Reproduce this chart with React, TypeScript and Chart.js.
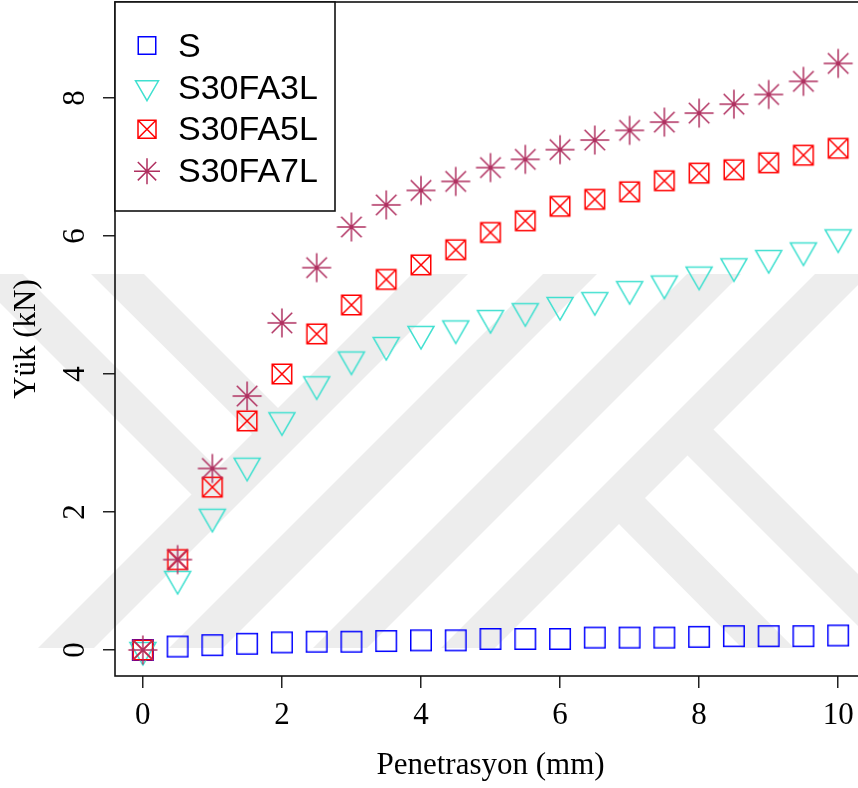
import { useEffect, useRef } from "react";
import { Chart, registerables } from "chart.js";

Chart.register(...registerables);

// ---------------- data ----------------
const PENETRATION = [0, 0.5, 1, 1.5, 2, 2.5, 3, 3.5, 4, 4.5, 5, 5.5, 6, 6.5, 7, 7.5, 8, 8.5, 9, 9.5, 10];
const LOAD_S = [0, 0.05, 0.07, 0.09, 0.11, 0.12, 0.12, 0.13, 0.14, 0.14, 0.16, 0.16, 0.16, 0.18, 0.18, 0.18, 0.19, 0.2, 0.2, 0.2, 0.21];
const LOAD_S30FA3L = [0, 1.03, 1.93, 2.67, 3.33, 3.85, 4.21, 4.42, 4.58, 4.66, 4.81, 4.91, 5.0, 5.07, 5.23, 5.31, 5.44, 5.56, 5.68, 5.79, 5.98];
const LOAD_S30FA5L = [0, 1.31, 2.36, 3.32, 4.0, 4.58, 5.0, 5.37, 5.58, 5.8, 6.05, 6.22, 6.43, 6.53, 6.64, 6.8, 6.91, 6.96, 7.06, 7.17, 7.27];
const LOAD_S30FA7L = [0, 1.31, 2.63, 3.68, 4.74, 5.54, 6.13, 6.45, 6.66, 6.79, 6.99, 7.11, 7.25, 7.39, 7.53, 7.65, 7.78, 7.91, 8.05, 8.24, 8.5];

const SERIES_NAMES = ["S", "S30FA3L", "S30FA5L", "S30FA7L"];
const SERIES_VALUES = [LOAD_S, LOAD_S30FA3L, LOAD_S30FA5L, LOAD_S30FA7L];
const SERIES_COLORS = ["#0000FF", "#40E0D0", "#FF0000", "#B03060"];
const SERIES_MARKERS = ["square", "triangleDown", "crossSquare", "asterisk"] as const;

const X_TICKS = [0, 2, 4, 6, 8, 10];
const Y_TICKS = [0, 2, 4, 6, 8];
const X_TITLE = "Penetrasyon (mm)";
const Y_TITLE = "Yük (kN)";

// ---------------- styling ----------------
const SERIF = '"Liberation Serif", "Times New Roman", serif';
const SANS = '"Liberation Sans", Arial, sans-serif';
const DATA_MARKER_SIZE = { square: 20.5, triangleDown: 26, crossSquare: 19.5, asterisk: 29 };
const LEGEND_MARKER_SIZE = { square: 17.5, triangleDown: 23, crossSquare: 18, asterisk: 26 };
const WATERMARK_COLOR = "#ededed";
const WATERMARK_CLIP = [274, 648];
const WATERMARK_BANDS = [
  [[38, 648], [94, 648], [469, 273], [413, 273]],
  [[169, 648], [223, 648], [598, 273], [544, 273]],
  [[313, 648], [367, 648], [742, 273], [688, 273]],
  [[441, 648], [495, 648], [870, 273], [816, 273]],
  [[-30, 273], [22, 273], [218, 469], [192, 495]],
  [[90, 273], [143, 273], [280, 410], [254, 436]],
  [[711, 427], [685, 453], [879, 647], [931, 647]],
  [[642.5, 495.5], [616.5, 521.5], [742, 648], [794, 648]],
];

type Kind = (typeof SERIES_MARKERS)[number];

function drawMarker(ctx: CanvasRenderingContext2D, kind: Kind, cx: number, cy: number, size: number, color: string, lw: number) {
  ctx.save();
  ctx.strokeStyle = color;
  ctx.lineWidth = lw;
  ctx.beginPath();
  const h = size / 2;
  if (kind === "square" || kind === "crossSquare") {
    ctx.rect(cx - h, cy - h, size, size);
    if (kind === "crossSquare") {
      ctx.moveTo(cx - h, cy - h);
      ctx.lineTo(cx + h, cy + h);
      ctx.moveTo(cx + h, cy - h);
      ctx.lineTo(cx - h, cy + h);
    }
  } else if (kind === "triangleDown") {
    const r = size / Math.sqrt(3);
    ctx.moveTo(cx, cy + r);
    ctx.lineTo(cx + h, cy - r / 2);
    ctx.lineTo(cx - h, cy - r / 2);
    ctx.closePath();
  } else {
    for (let k = 0; k < 4; k++) {
      const a = (k * Math.PI) / 4;
      ctx.moveTo(cx + Math.cos(a) * h, cy + Math.sin(a) * h);
      ctx.lineTo(cx - Math.cos(a) * h, cy - Math.sin(a) * h);
    }
  }
  ctx.stroke();
  ctx.restore();
}

function makeMarkerImage(kind: Kind, size: number, color: string) {
  const dim = 42;
  const c = document.createElement("canvas");
  c.width = dim;
  c.height = dim;
  const ctx = c.getContext("2d")!;
  drawMarker(ctx, kind, dim / 2, dim / 2, size, color, 1.5);
  return c;
}

export default function App() {
  const ref = useRef<HTMLCanvasElement>(null);

  useEffect(() => {
    document.body.style.margin = "0";
    const canvas = ref.current!;

    const backgroundPlugin = {
      id: "bgWatermark",
      beforeDraw(chart: any) {
        const ctx = chart.ctx as CanvasRenderingContext2D;
        ctx.save();
        ctx.fillStyle = "#fff";
        ctx.fillRect(0, 0, chart.width, chart.height);
        ctx.beginPath();
        ctx.rect(0, WATERMARK_CLIP[0], chart.width, WATERMARK_CLIP[1] - WATERMARK_CLIP[0]);
        ctx.clip();
        ctx.fillStyle = WATERMARK_COLOR;
        for (const poly of WATERMARK_BANDS) {
          ctx.beginPath();
          poly.forEach(([px, py], i) => (i === 0 ? ctx.moveTo(px, py) : ctx.lineTo(px, py)));
          ctx.closePath();
          ctx.fill();
        }
        ctx.restore();
      },
    };

    const framePlugin = {
      id: "frameLegend",
      afterDatasetsDraw(chart: any) {
        const ctx = chart.ctx as CanvasRenderingContext2D;
        const a = chart.chartArea;
        ctx.save();
        ctx.strokeStyle = "#111";
        ctx.lineWidth = 1.6;
        ctx.strokeRect(a.left, a.top, a.right - a.left, a.bottom - a.top);

        // legend (top-left, inside plot region)
        const lw = 220;
        const lh = 209;
        ctx.fillStyle = "#fff";
        ctx.fillRect(a.left, a.top, lw, lh);
        ctx.strokeRect(a.left, a.top, lw, lh);
        chart.data.datasets.forEach((ds: any, i: number) => {
          const kind = SERIES_MARKERS[i];
          drawMarker(ctx, kind, a.left + 32, a.top + 43.5 + 41.9 * i, LEGEND_MARKER_SIZE[kind], SERIES_COLORS[i], 1.5);
          ctx.fillStyle = "#000";
          ctx.font = `34px ${SANS}`;
          ctx.textAlign = "left";
          ctx.textBaseline = "middle";
          ctx.fillText(ds.label, a.left + 63, a.top + 46 + 41.4 * i);
        });
        ctx.restore();
      },
      afterDraw(chart: any) {
        const ctx = chart.ctx as CanvasRenderingContext2D;
        const ys = chart.scales.y;
        ctx.save();
        ctx.fillStyle = "#000";
        ctx.font = `31px ${SERIF}`;
        ctx.textAlign = "center";
        ctx.textBaseline = "middle";
        for (const v of Y_TICKS) {
          const py = ys.getPixelForValue(v);
          ctx.save();
          ctx.translate(76, py);
          ctx.rotate(-Math.PI / 2);
          ctx.fillText(String(v), 0, 0);
          ctx.restore();
        }
        ctx.restore();
      },
    };

    const datasets = SERIES_NAMES.map((name, i) => ({
      label: name,
      data: PENETRATION.map((x, j) => ({ x, y: SERIES_VALUES[i][j] })),
      pointStyle: makeMarkerImage(SERIES_MARKERS[i], DATA_MARKER_SIZE[SERIES_MARKERS[i]], SERIES_COLORS[i]),
      pointRadius: 10,
      borderColor: SERIES_COLORS[i],
      backgroundColor: SERIES_COLORS[i],
      order: SERIES_NAMES.length - i,
    }));

    const gridOpts = { drawOnChartArea: false, drawTicks: true, tickLength: 12, color: "#222", lineWidth: 1.5 };

    const chart = new Chart(canvas, {
      type: "scatter",
      data: { datasets },
      options: {
        responsive: false,
        animation: false,
        layout: { autoPadding: false, padding: { left: 0, right: 0, top: 2, bottom: 0 } },
        plugins: { legend: { display: false }, tooltip: { enabled: false } },
        scales: {
          x: {
            type: "linear",
            min: -0.4,
            max: 10.4,
            afterBuildTicks: (s: any) => {
              s.ticks = X_TICKS.map((v) => ({ value: v }));
            },
            afterFit: (s: any) => {
              s.height = 112;
            },
            ticks: {
              font: { family: SERIF, size: 31 },
              color: "#000",
              padding: 9,
              maxRotation: 0,
              minRotation: 0,
              autoSkip: false,
              callback: (v: any) => String(v),
            },
            grid: gridOpts,
            border: { display: false },
            title: {
              display: true,
              text: X_TITLE,
              color: "#000",
              font: { family: SERIF, size: 31, lineHeight: 1 },
              padding: { top: 0, bottom: 7 },
            },
          },
          y: {
            type: "linear",
            min: -0.377,
            max: 9.39,
            afterBuildTicks: (s: any) => {
              s.ticks = Y_TICKS.map((v) => ({ value: v }));
            },
            afterFit: (s: any) => {
              s.width = 115;
            },
            ticks: { display: false },
            grid: gridOpts,
            border: { display: false },
            title: {
              display: true,
              text: Y_TITLE,
              color: "#000",
              font: { family: SERIF, size: 31, lineHeight: 1 },
              padding: { top: 11, bottom: 0 },
            },
          },
        },
      },
      plugins: [backgroundPlugin, framePlugin],
    } as any);

    return () => chart.destroy();
  }, []);

  return (
    <div style={{ position: "fixed", left: 0, top: 0, width: 858, height: 788, overflow: "hidden", background: "#fff" }}>
      <canvas ref={ref} width={866} height={788} style={{ display: "block" }} />
    </div>
  );
}
